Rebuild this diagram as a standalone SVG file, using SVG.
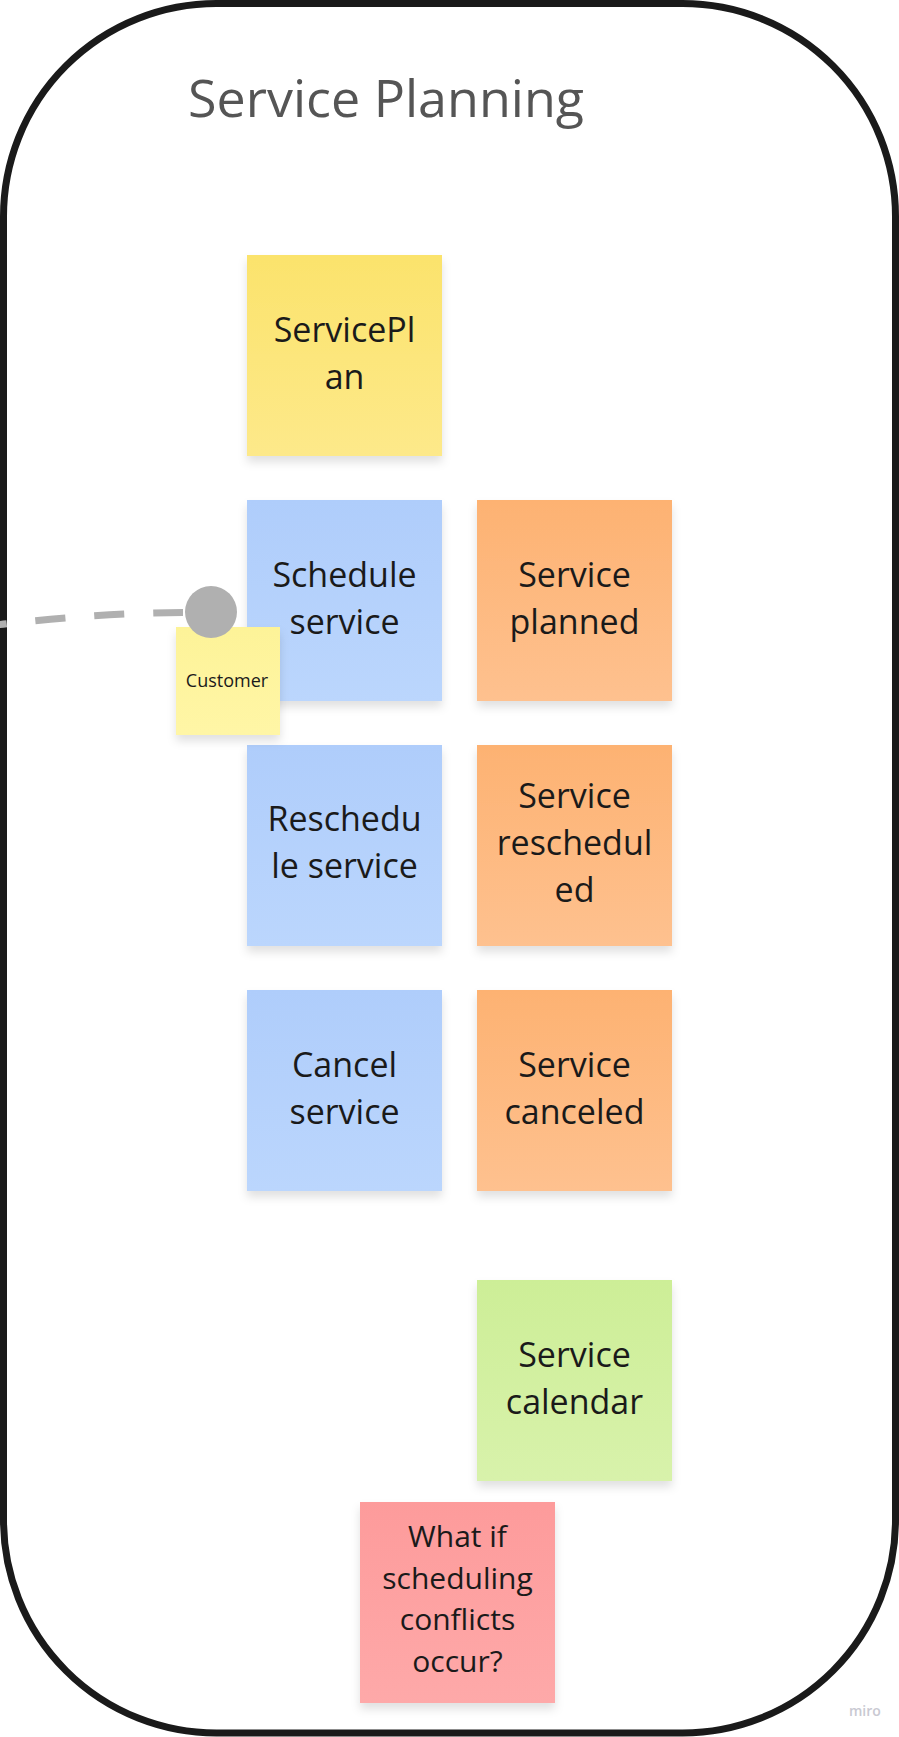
<svg xmlns="http://www.w3.org/2000/svg" width="899" height="1737" viewBox="0 0 899 1737">
  <style>
    .frame { fill: #ffffff; stroke: #1a1a1a; stroke-width: 7; }
    .title { font-family: "Open Sans", "Noto Sans", sans-serif; font-size: 52px; fill: #555555; }
    .st { font-family: "Open Sans", "Noto Sans", sans-serif; font-size: 34px; fill: #1a1a1a; text-anchor: middle; }
    .st30 { font-family: "Open Sans", "Noto Sans", sans-serif; font-size: 30px; fill: #1a1a1a; text-anchor: middle; }
    .st18 { font-family: "Open Sans", "Noto Sans", sans-serif; font-size: 18px; fill: #1a1a1a; text-anchor: middle; }
    .wm { font-family: "Open Sans", "Noto Sans", sans-serif; font-size: 14px; fill: #c9c9d2; font-weight: 600; }
    .sticky { filter: url(#shadow); }
    .conn { fill: none; stroke: #b0b0b0; stroke-width: 7; stroke-dasharray: 30 29; }
    .dot { fill: #b0b0b0; }
  </style>
  <defs>
    <filter id="shadow" x="-20%" y="-20%" width="140%" height="150%">
      <feDropShadow dx="0" dy="6" stdDeviation="5" flood-color="#000000" flood-opacity="0.12"/>
    </filter>
    <linearGradient id="gYellow" x1="0" y1="0" x2="0" y2="1">
      <stop offset="0" stop-color="#fbe36c"/>
      <stop offset="1" stop-color="#fde98a"/>
    </linearGradient>
    <linearGradient id="gBlue" x1="0" y1="0" x2="0" y2="1">
      <stop offset="0" stop-color="#afcdfb"/>
      <stop offset="1" stop-color="#bbd6fd"/>
    </linearGradient>
    <linearGradient id="gOrange" x1="0" y1="0" x2="0" y2="1">
      <stop offset="0" stop-color="#fdb272"/>
      <stop offset="1" stop-color="#fec18f"/>
    </linearGradient>
    <linearGradient id="gGreen" x1="0" y1="0" x2="0" y2="1">
      <stop offset="0" stop-color="#cdee97"/>
      <stop offset="1" stop-color="#d8f2ab"/>
    </linearGradient>
    <linearGradient id="gRed" x1="0" y1="0" x2="0" y2="1">
      <stop offset="0" stop-color="#fd9b9b"/>
      <stop offset="1" stop-color="#fea9a9"/>
    </linearGradient>
    <linearGradient id="gLight" x1="0" y1="0" x2="0" y2="1">
      <stop offset="0" stop-color="#fdf398"/>
      <stop offset="1" stop-color="#fff6a6"/>
    </linearGradient>
  </defs>

  <rect width="899" height="1737" fill="#ffffff"/>

  <g id="frame">
    <rect class="frame" x="3.5" y="3.5" width="892" height="1729.5" rx="213" ry="213"/>
    <text class="title" x="188" y="117">Service Planning</text>
  </g>

  <g id="serviceplan">
    <rect class="sticky" x="247" y="255" width="195" height="201" fill="url(#gYellow)"/>
    <text class="st" x="344.5" y="342">ServicePl</text>
    <text class="st" x="344.5" y="389">an</text>
  </g>

  <g id="schedule-service">
    <rect class="sticky" x="247" y="500" width="195" height="201" fill="url(#gBlue)"/>
    <text class="st" x="344.5" y="587">Schedule</text>
    <text class="st" x="344.5" y="634">service</text>
  </g>

  <g id="service-planned">
    <rect class="sticky" x="477" y="500" width="195" height="201" fill="url(#gOrange)"/>
    <text class="st" x="574.5" y="587">Service</text>
    <text class="st" x="574.5" y="634">planned</text>
  </g>

  <g id="reschedule-service">
    <rect class="sticky" x="247" y="745" width="195" height="201" fill="url(#gBlue)"/>
    <text class="st" x="344.5" y="831">Reschedu</text>
    <text class="st" x="344.5" y="878">le service</text>
  </g>

  <g id="service-rescheduled">
    <rect class="sticky" x="477" y="745" width="195" height="201" fill="url(#gOrange)"/>
    <text class="st" x="574.5" y="808">Service</text>
    <text class="st" x="574.5" y="855">reschedul</text>
    <text class="st" x="574.5" y="902">ed</text>
  </g>

  <g id="cancel-service">
    <rect class="sticky" x="247" y="990" width="195" height="201" fill="url(#gBlue)"/>
    <text class="st" x="344.5" y="1077">Cancel</text>
    <text class="st" x="344.5" y="1124">service</text>
  </g>

  <g id="service-canceled">
    <rect class="sticky" x="477" y="990" width="195" height="201" fill="url(#gOrange)"/>
    <text class="st" x="574.5" y="1077">Service</text>
    <text class="st" x="574.5" y="1124">canceled</text>
  </g>

  <g id="service-calendar">
    <rect class="sticky" x="477" y="1280" width="195" height="201" fill="url(#gGreen)"/>
    <text class="st" x="574.5" y="1367">Service</text>
    <text class="st" x="574.5" y="1414">calendar</text>
  </g>

  <g id="scheduling-conflicts">
    <rect class="sticky" x="360" y="1502" width="195" height="201" fill="url(#gRed)"/>
    <text class="st30" x="457.5" y="1547">What if</text>
    <text class="st30" x="457.5" y="1588.5">scheduling</text>
    <text class="st30" x="457.5" y="1630">conflicts</text>
    <text class="st30" x="457.5" y="1672">occur?</text>
  </g>

  <g id="customer">
    <rect class="sticky" x="176" y="627" width="104" height="108" fill="url(#gLight)"/>
    <text class="st18" x="227" y="687">Customer</text>
  </g>

  <g id="connectors">
    <path class="conn" d="M 183 612.5 Q 90 613 -20 627"/>
    <circle class="dot" cx="211" cy="612" r="26"/>
  </g>

  <g id="watermark">
    <text class="wm" x="849" y="1716">miro</text>
  </g>
</svg>
